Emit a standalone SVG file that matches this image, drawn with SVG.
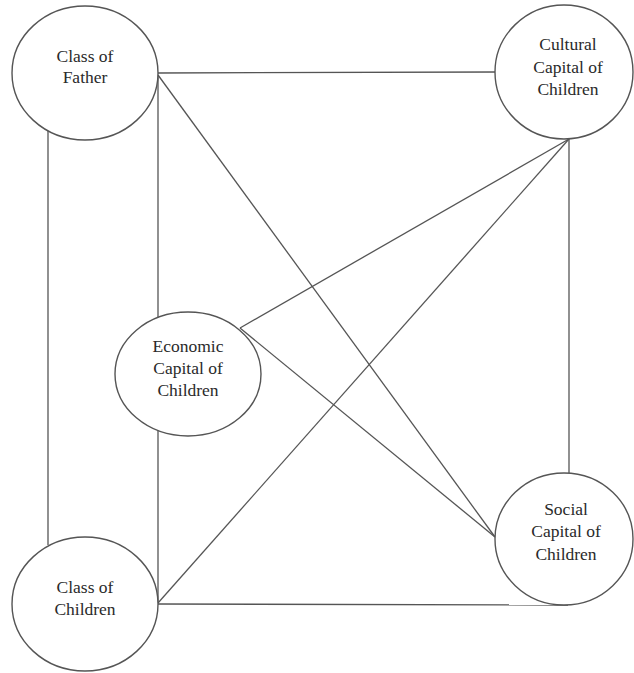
<svg xmlns="http://www.w3.org/2000/svg" width="634" height="673" viewBox="0 0 634 673">
<style>
.n{fill:#fff;stroke:#555;stroke-width:1.4}
.e line{stroke:#555;stroke-width:1.3}
text{font-family:"Liberation Serif","Times New Roman",serif;font-size:17.5px;fill:#2a2a2a;text-anchor:middle}
</style>
<rect width="634" height="673" fill="#fff"/>
<g class="e" id="connectors">
<line x1="158" y1="73" x2="496" y2="72"/>
<line x1="158" y1="75" x2="495" y2="537"/>
<line x1="158" y1="75" x2="158" y2="317"/>
<line x1="158" y1="431" x2="158" y2="603"/>
<line x1="48" y1="131" x2="48" y2="545"/>
<line x1="569" y1="139" x2="569" y2="473"/>
<line x1="569" y1="139" x2="240" y2="328"/>
<line x1="569" y1="139" x2="158" y2="603"/>
<line x1="240" y1="328" x2="495" y2="537"/>
<line x1="158" y1="604" x2="568" y2="605"/>
</g>
<g id="father"><ellipse class="n" cx="85" cy="73" rx="73" ry="67"/><text x="85" y="62">Class of</text><text x="85" y="83">Father</text></g>
<g id="cultural"><ellipse class="n" cx="564" cy="72" rx="69" ry="67"/><text x="568" y="50">Cultural</text><text x="568" y="73">Capital of</text><text x="568" y="95">Children</text></g>
<g id="economic"><ellipse class="n" cx="188" cy="374" rx="73" ry="62"/><text x="188" y="352">Economic</text><text x="188" y="374">Capital of</text><text x="188" y="396">Children</text></g>
<g id="classchildren"><ellipse class="n" cx="85" cy="604" rx="73" ry="67"/><text x="85" y="593">Class of</text><text x="85" y="615">Children</text></g>
<g id="social"><ellipse class="n" cx="564" cy="539" rx="69" ry="66"/><text x="566" y="515">Social</text><text x="566" y="537">Capital of</text><text x="566" y="560">Children</text></g>
</svg>
